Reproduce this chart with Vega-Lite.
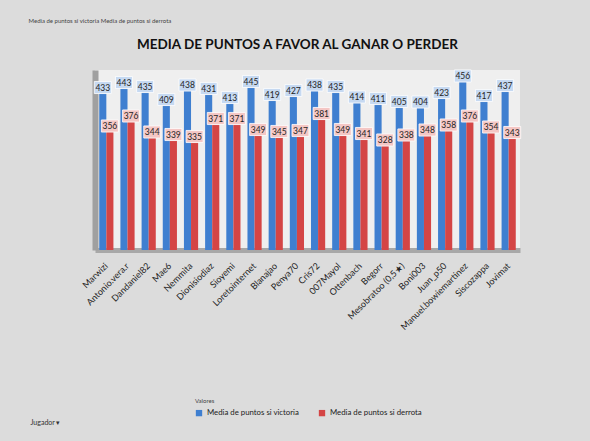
{
  "$schema": "https://vega.github.io/schema/vega-lite/v6.json",
  "description": "Media de puntos a favor al ganar o perder, por jugador.",
  "autosize": {"type": "none"},
  "width": 425,
  "height": 180,
  "padding": {"left": 95, "top": 70, "right": 70, "bottom": 191},
  "background": "#dcdcdc",
  "config": {
    "font": "Lato",
    "view": {"fill": "#efefef", "stroke": null}
  },
  "title": {
    "text": "MEDIA DE PUNTOS A FAVOR AL GANAR O PERDER",
    "fontSize": 13.5,
    "fontWeight": "bold",
    "color": "#111111",
    "anchor": "middle",
    "dx": -10,
    "dy": 48,
    "offset": 14
  },
  "data": {
    "values": [
      {"jugador": "Marwizi", "serie": "Media de puntos si victoria", "valor": 433},
      {"jugador": "Marwizi", "serie": "Media de puntos si derrota", "valor": 356},
      {"jugador": "Antonio.vera.r", "serie": "Media de puntos si victoria", "valor": 443},
      {"jugador": "Antonio.vera.r", "serie": "Media de puntos si derrota", "valor": 376},
      {"jugador": "Dandaniel82", "serie": "Media de puntos si victoria", "valor": 435},
      {"jugador": "Dandaniel82", "serie": "Media de puntos si derrota", "valor": 344},
      {"jugador": "Mae6", "serie": "Media de puntos si victoria", "valor": 409},
      {"jugador": "Mae6", "serie": "Media de puntos si derrota", "valor": 339},
      {"jugador": "Nemmita", "serie": "Media de puntos si victoria", "valor": 438},
      {"jugador": "Nemmita", "serie": "Media de puntos si derrota", "valor": 335},
      {"jugador": "Dionisiodiaz", "serie": "Media de puntos si victoria", "valor": 431},
      {"jugador": "Dionisiodiaz", "serie": "Media de puntos si derrota", "valor": 371},
      {"jugador": "Sioyemi", "serie": "Media de puntos si victoria", "valor": 413},
      {"jugador": "Sioyemi", "serie": "Media de puntos si derrota", "valor": 371},
      {"jugador": "Loretointernet", "serie": "Media de puntos si victoria", "valor": 445},
      {"jugador": "Loretointernet", "serie": "Media de puntos si derrota", "valor": 349},
      {"jugador": "Blanajao", "serie": "Media de puntos si victoria", "valor": 419},
      {"jugador": "Blanajao", "serie": "Media de puntos si derrota", "valor": 345},
      {"jugador": "Penya70", "serie": "Media de puntos si victoria", "valor": 427},
      {"jugador": "Penya70", "serie": "Media de puntos si derrota", "valor": 347},
      {"jugador": "Cris72", "serie": "Media de puntos si victoria", "valor": 438},
      {"jugador": "Cris72", "serie": "Media de puntos si derrota", "valor": 381},
      {"jugador": "007Mayol", "serie": "Media de puntos si victoria", "valor": 435},
      {"jugador": "007Mayol", "serie": "Media de puntos si derrota", "valor": 349},
      {"jugador": "Ottenbach", "serie": "Media de puntos si victoria", "valor": 414},
      {"jugador": "Ottenbach", "serie": "Media de puntos si derrota", "valor": 341},
      {"jugador": "Begorr", "serie": "Media de puntos si victoria", "valor": 411},
      {"jugador": "Begorr", "serie": "Media de puntos si derrota", "valor": 328},
      {"jugador": "Mesobratoo (0,5★)", "serie": "Media de puntos si victoria", "valor": 405},
      {"jugador": "Mesobratoo (0,5★)", "serie": "Media de puntos si derrota", "valor": 338},
      {"jugador": "Boni003", "serie": "Media de puntos si victoria", "valor": 404},
      {"jugador": "Boni003", "serie": "Media de puntos si derrota", "valor": 348},
      {"jugador": "Juan_p50", "serie": "Media de puntos si victoria", "valor": 423},
      {"jugador": "Juan_p50", "serie": "Media de puntos si derrota", "valor": 358},
      {"jugador": "Manuel.bowiemartinez", "serie": "Media de puntos si victoria", "valor": 456},
      {"jugador": "Manuel.bowiemartinez", "serie": "Media de puntos si derrota", "valor": 376},
      {"jugador": "Siscozappa", "serie": "Media de puntos si victoria", "valor": 417},
      {"jugador": "Siscozappa", "serie": "Media de puntos si derrota", "valor": 354},
      {"jugador": "Jovimat", "serie": "Media de puntos si victoria", "valor": 437},
      {"jugador": "Jovimat", "serie": "Media de puntos si derrota", "valor": 343}
    ]
  },
  "encoding": {
    "x": {
      "field": "jugador",
      "type": "nominal",
      "sort": null,
      "scale": {"paddingInner": 0.33, "paddingOuter": 0.2},
      "title": "Jugador ▾",
      "axis": {
        "labelAngle": -45,
        "labelAlign": "right",
        "labelBaseline": "middle",
        "labelFontSize": 9,
        "labelColor": "#222222",
        "labelPadding": 14,
        "ticks": false,
        "domainColor": "#a8a8a8",
        "domainWidth": 5,
        "titleFontSize": 7,
        "titleFontWeight": "normal",
        "titleColor": "#333333",
        "titleAnchor": "start",
        "titleAlign": "left",
        "titleX": -65,
        "titleY": 168
      }
    },
    "xOffset": {
      "field": "serie",
      "type": "nominal",
      "sort": ["Media de puntos si victoria", "Media de puntos si derrota"]
    },
    "y": {
      "field": "valor",
      "type": "quantitative",
      "scale": {"domain": [120, 480], "zero": false, "nice": false},
      "title": "Media de puntos si victoria      Media de puntos si derrota",
      "axis": {
        "labels": false,
        "ticks": false,
        "grid": false,
        "domainColor": "#a0a0a0",
        "domainWidth": 6,
        "titleAngle": 0,
        "titleAlign": "left",
        "titleBaseline": "middle",
        "titleFontSize": 6,
        "titleFontWeight": "normal",
        "titleColor": "#444444",
        "titleX": -67,
        "titleY": -50
      }
    }
  },
  "layer": [
    {
      "mark": {"type": "bar", "clip": true},
      "encoding": {
        "color": {
          "field": "serie",
          "type": "nominal",
          "scale": {
            "domain": ["Media de puntos si victoria", "Media de puntos si derrota"],
            "range": ["#3f7fd0", "#d44545"]
          },
          "legend": {
            "title": "Valores",
            "orient": "none",
            "direction": "horizontal",
            "legendX": 100,
            "legendY": 328,
            "titleFontSize": 6,
            "titleFontWeight": "normal",
            "titleColor": "#444444",
            "labelFontSize": 7.8,
            "labelColor": "#222222",
            "symbolType": "square",
            "symbolSize": 40,
            "columnPadding": 18,
            "labelLimit": 200
          }
        }
      }
    },
    {
      "transform": [{"filter": "datum.serie === 'Media de puntos si victoria'"}],
      "mark": {
        "type": "point",
        "shape": "M-1.4,-1L1.4,-1L1.4,1L-1.4,1Z",
        "size": 147,
        "filled": true,
        "fill": "#c6d9f1",
        "stroke": "#ffffff",
        "strokeWidth": 0.8,
        "opacity": 1,
        "yOffset": -6
      }
    },
    {
      "transform": [{"filter": "datum.serie === 'Media de puntos si derrota'"}],
      "mark": {
        "type": "point",
        "shape": "M-1.4,-1L1.4,-1L1.4,1L-1.4,1Z",
        "size": 147,
        "filled": true,
        "fill": "#f4c7c5",
        "stroke": "#ffffff",
        "strokeWidth": 0.8,
        "opacity": 1,
        "yOffset": -6
      }
    },
    {
      "mark": {
        "type": "text",
        "fontSize": 8.5,
        "color": "#1f1f1f",
        "dy": -6,
        "baseline": "middle"
      },
      "encoding": {
        "text": {"field": "valor", "type": "quantitative"}
      }
    }
  ]
}
